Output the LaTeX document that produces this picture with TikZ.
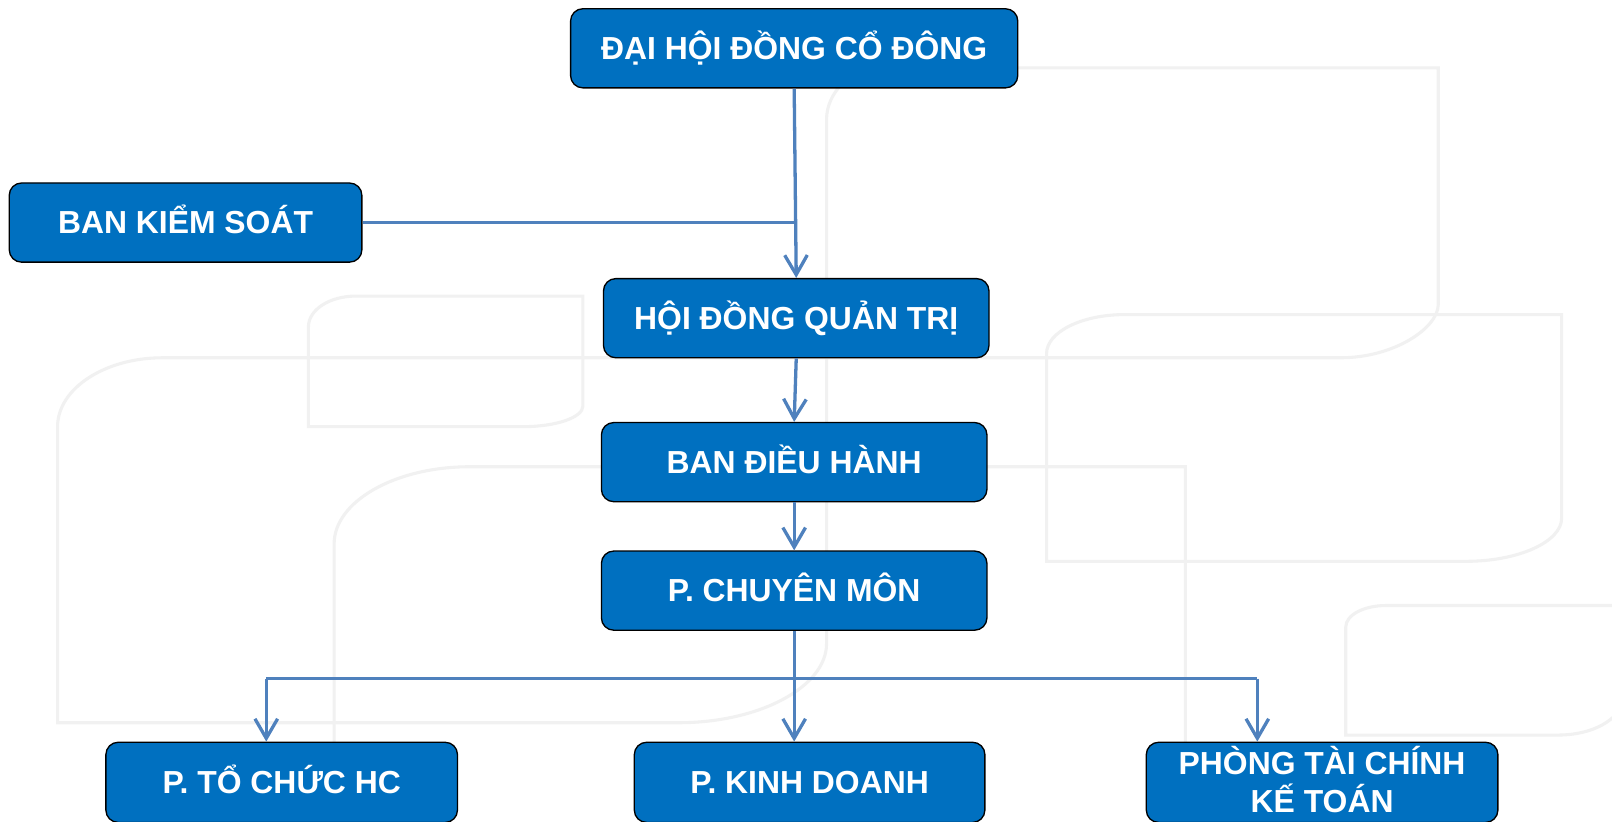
\documentclass[tikz,border=0pt]{standalone}
\usepackage{fontspec}
\setmainfont{Liberation Sans}
\usetikzlibrary{arrows.meta}
\definecolor{boxblue}{HTML}{0070C0}
\definecolor{connblue}{HTML}{4F81BD}
\definecolor{wmgray}{HTML}{F1F1F1}
\tikzset{
  orgbox/.style={draw=black, line width=1.3pt, fill=boxblue, rounded corners=12pt,
    text=white, font=\bfseries\fontsize{31}{37}\selectfont, inner sep=0pt,
    text height=22pt, text depth=0pt, minimum height=77pt},
  conn/.style={draw=connblue, line width=3.2pt},
  arr/.style={conn, -{Straight Barb[length=19pt,width=22pt]}},
  wm/.style={draw=wmgray, line width=3pt}
}
\begin{document}
\begin{tikzpicture}[x=1pt,y=-1pt]
\clip (0,0) rectangle (1568,799);
\fill[white] (0,0) rectangle (1568,799);
% watermark
\draw[wm] (1399,66) -- (856,66) .. controls (828,66) and (804,90) .. (804,116)
  -- (804,626) .. controls (804,668) and (739,703) .. (660,703)
  -- (56,703) -- (56,415) .. controls (56,378) and (102,348) .. (158,348)
  -- (1304,348) .. controls (1356,348) and (1399,319) .. (1399,296) -- cycle;
\draw[wm] (300,415) -- (300,318) .. controls (300,301) and (321,288) .. (346,288)
  -- (567,288) -- (567,395) .. controls (567,406) and (541,415) .. (509,415) -- cycle;
\draw[wm] (325,805) -- (325,529) .. controls (325,488) and (384,454) .. (457,454)
  -- (1153,454) -- (1153,805);
\draw[wm] (1018,546) -- (1018,344) .. controls (1018,323) and (1052,306) .. (1094,306)
  -- (1519,306) -- (1519,504) .. controls (1519,527) and (1477,546) .. (1426,546) -- cycle;
\draw[wm] (1580,589) -- (1348,589) .. controls (1327,589) and (1309,598) .. (1309,610)
  -- (1309,715) -- (1515,715) .. controls (1550,715) and (1575,700) .. (1580,680);
% boxes
\node[orgbox, minimum width=435pt] (dhcd) at (772.5,47) {ĐẠI HỘI ĐỒNG CỔ ĐÔNG};
\node[orgbox, minimum width=343pt] (bks) at (180.5,216.5) {BAN KIỂM SOÁT};
\node[orgbox, minimum width=375pt] (hdqt) at (774.5,309.5) {HỘI ĐỒNG QUẢN TRỊ};
\node[orgbox, minimum width=375pt] (bdh) at (772.5,449.5) {BAN ĐIỀU HÀNH};
\node[orgbox, minimum width=375pt] (pcm) at (772.5,574.5) {P. CHUYÊN MÔN};
\node[orgbox, minimum width=342pt, minimum height=78pt] (ptc) at (274,761) {P. TỔ CHỨC HC};
\node[orgbox, minimum width=341pt, minimum height=78pt] (pkd) at (787.5,761) {P. KINH DOANH};
\node[orgbox, minimum width=342pt, minimum height=78pt, align=center, text height=59pt, text depth=0pt] (ptckt) at (1286,761) {PHÒNG TÀI CHÍNH\\KẾ TOÁN};
% connectors
\draw[arr] (dhcd.south) -- (hdqt.north);
\draw[conn] (bks.east) -- (bks.east -| dhcd.south);
\draw[arr] (hdqt.south) -- (bdh.north);
\draw[arr] (bdh.south) -- (pcm.north);
\draw[arr] (pcm.south) -- (pcm.south |- pkd.north);
\coordinate (bl) at (259,660);
\coordinate (br) at (1223,660);
\draw[conn] (bl) -- (br);
\draw[arr] (bl) -- (bl |- ptc.north);
\draw[arr] (br) -- (br |- ptckt.north);
\end{tikzpicture}
\end{document}
